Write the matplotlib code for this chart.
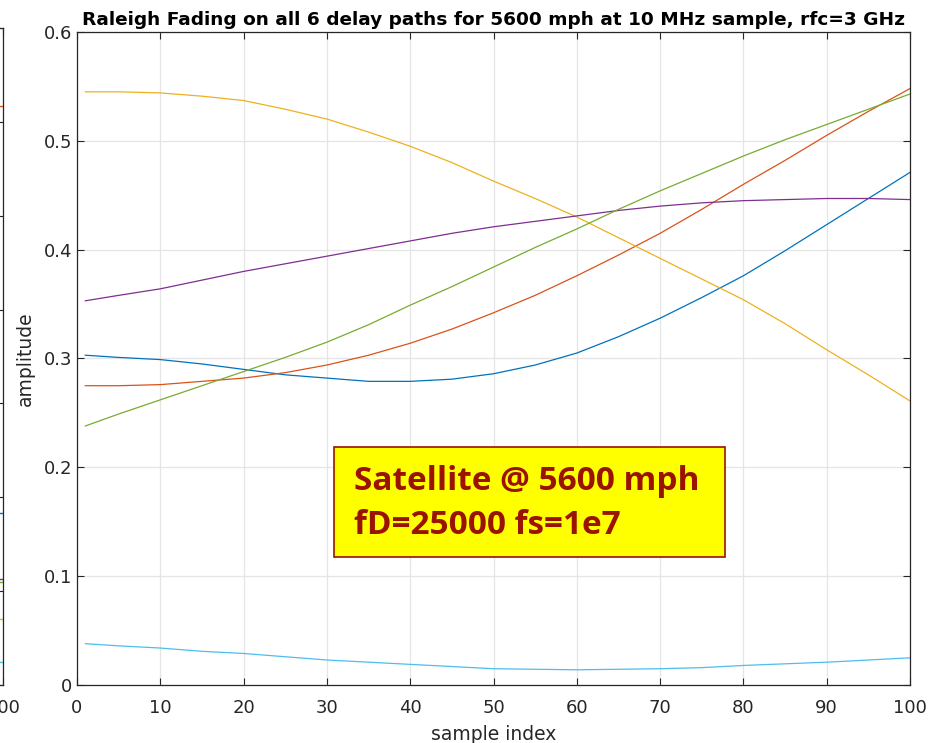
import numpy as np
import matplotlib.pyplot as plt
from matplotlib.patches import Rectangle

plt.rcParams['font.family'] = ['DejaVu Sans']

# MATLAB default line colours
COLORS = ['#0072BD', '#D95319', '#EDB120', '#7E2F8E', '#77AC30', '#4DBEEE']
AXIS_COLOR = '#262626'
GRID_COLOR = '#e5e5e5'

# sample index and fading amplitude of the 6 delay paths
sample_index = [1, 5, 10, 15, 20, 25, 30, 35, 40, 45, 50,
                55, 60, 65, 70, 75, 80, 85, 90, 95, 100]
path1 = [0.303, 0.301, 0.299, 0.295, 0.290, 0.285, 0.282, 0.279, 0.279, 0.281, 0.286,
         0.294, 0.305, 0.320, 0.337, 0.356, 0.376, 0.399, 0.423, 0.447, 0.471]
path2 = [0.275, 0.275, 0.276, 0.279, 0.282, 0.287, 0.294, 0.303, 0.314, 0.327, 0.342,
         0.358, 0.376, 0.395, 0.415, 0.437, 0.460, 0.482, 0.505, 0.527, 0.548]
path3 = [0.545, 0.545, 0.544, 0.541, 0.537, 0.529, 0.520, 0.508, 0.495, 0.480, 0.463,
         0.447, 0.430, 0.411, 0.392, 0.373, 0.354, 0.332, 0.308, 0.285, 0.261]
path4 = [0.353, 0.358, 0.364, 0.372, 0.380, 0.387, 0.394, 0.401, 0.408, 0.415, 0.421,
         0.426, 0.431, 0.436, 0.440, 0.443, 0.445, 0.446, 0.447, 0.447, 0.446]
path5 = [0.238, 0.249, 0.262, 0.275, 0.288, 0.301, 0.315, 0.331, 0.349, 0.366, 0.384,
         0.402, 0.419, 0.437, 0.454, 0.470, 0.486, 0.501, 0.515, 0.529, 0.543]
path6 = [0.038, 0.036, 0.034, 0.031, 0.029, 0.026, 0.023, 0.021, 0.019, 0.017, 0.015,
         0.0145, 0.014, 0.0145, 0.015, 0.016, 0.018, 0.0195, 0.021, 0.023, 0.025]
paths = [path1, path2, path3, path4, path5, path6]

# right-hand end values of the neighbouring plot (only its edge is on the figure)
prev_x = [95, 100]
prev_end = [0.183, 0.617, 0.070, 0.113, 0.109, 0.0245]

x_ticks = np.arange(0, 101, 10)
y_ticks = np.arange(0, 0.61, 0.1)


def style_axes(ax):
    ax.tick_params(direction='in', top=True, right=True, colors=AXIS_COLOR,
                   labelsize=13, length=5, width=0.8)
    ax.tick_params(axis='x', pad=10)
    for s in ax.spines.values():
        s.set_color(AXIS_COLOR)
        s.set_linewidth(0.9)
    ax.grid(True, color=GRID_COLOR, linewidth=0.9)
    ax.set_axisbelow(True)


fig = plt.figure(figsize=(9.4, 7.43), dpi=100)

# neighbouring subplot, mostly off the left edge
ax0 = fig.add_axes([-0.297, 0.0785, 0.3, 0.8835])
style_axes(ax0)
for c, v in zip(COLORS, prev_end):
    ax0.plot(prev_x, [v, v], color=c, linewidth=1)
ax0.set_xlim(0, 100)
ax0.set_ylim(0, 0.7)
ax0.set_xticks(x_ticks)
ax0.set_xticklabels([''] * 10 + ['100'])
ax0.set_yticks(np.arange(0, 0.71, 0.1))
ax0.set_yticklabels([])

ax = fig.add_axes([0.0819, 0.078, 0.8862, 0.879])
style_axes(ax)
for c, p in zip(COLORS, paths):
    ax.plot(sample_index, p, color=c, linewidth=0.9)

ax.set_xlim(0, 100)
ax.set_ylim(0, 0.6)
ax.set_xticks(x_ticks)
ax.set_yticks(y_ticks)
ax.set_yticklabels(['0', '0.1', '0.2', '0.3', '0.4', '0.5', '0.6'])
ax.set_xlabel('sample index', fontsize=13.5, color=AXIS_COLOR, labelpad=6)
ax.set_ylabel('amplitude', fontsize=13.5, color=AXIS_COLOR, labelpad=6)
ax.set_title('Raleigh Fading on all 6 delay paths for 5600 mph at 10 MHz sample, rfc=3 GHz',
             fontsize=13.3, fontweight='bold', color='black', pad=5)

# annotation box
box_red = '#9A1300'
ax.add_patch(Rectangle((30.85, 0.1176), 46.95, 0.1011, facecolor='#FFFF00',
                       edgecolor=box_red, linewidth=1.2, zorder=5))
ax.text(33.3, 0.1795, 'Satellite @ 5600 mph', fontsize=24, fontweight='bold',
        color=box_red, family=['Open Sans', 'DejaVu Sans'], va='baseline', zorder=6)
ax.text(33.3, 0.1385, 'fD=25000 fs=1e7', fontsize=24, fontweight='bold',
        color=box_red, family=['Open Sans', 'DejaVu Sans'], va='baseline', zorder=6)

fig.savefig('out.png', dpi=100)
